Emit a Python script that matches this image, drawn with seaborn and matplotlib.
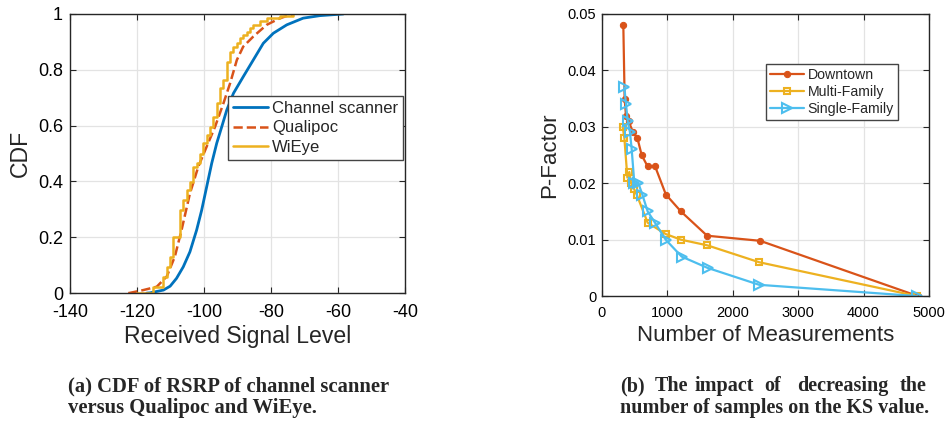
import matplotlib
matplotlib.use("Agg")
import matplotlib.pyplot as plt
import seaborn as sns

# ---------------- data ----------------
scanner_x = [-117.1, -116.1, -112.1, -110.1, -108.2, -106.2, -104.2, -102.2, -100.7, -99.2, -97.7, -96.2,
             -94.7, -93.2, -91.2, -88.3, -85.3, -82.3, -79.3, -75.3, -70.4, -65.4, -58.4]
scanner_y = [0.0, 0.001, 0.011, 0.025, 0.053, 0.094, 0.148, 0.226, 0.297, 0.381, 0.465, 0.537,
             0.596, 0.656, 0.716, 0.775, 0.835, 0.895, 0.931, 0.961, 0.985, 0.994, 1.0]

qualipoc_x = [-122.6, -122.1, -118.1, -114.1, -111.1, -108.7, -106.7, -104.2, -101.7, -99.2, -96.7, -94.2,
              -92.2, -90.2, -88.3, -85.3, -81.3, -77.3, -73.3]
qualipoc_y = [0.0, 0.001, 0.011, 0.023, 0.06, 0.131, 0.226, 0.357, 0.453, 0.525, 0.596, 0.68,
              0.752, 0.835, 0.883, 0.919, 0.961, 0.985, 1.0]

wieye_x = [-120.1, -115.1, -112.1, -111.1, -110.1, -109.2, -107.2, -106.2, -105.2, -104.2, -103.2, -102.2,
           -101.2, -100.2, -99.2, -98.2, -97.2, -96.2, -95.2, -94.2, -93.2, -92.2, -91.2, -90.2, -89.2,
           -88.3, -87.3, -86.3, -85.3, -83.3, -81.3, -77.3, -73.3]
wieye_y = [0.0, 0.023, 0.059, 0.094, 0.13, 0.202, 0.297, 0.333, 0.369, 0.399, 0.453, 0.465,
           0.5, 0.536, 0.566, 0.596, 0.632, 0.68, 0.734, 0.763, 0.829, 0.865, 0.883, 0.895, 0.913,
           0.925, 0.937, 0.949, 0.961, 0.973, 0.984, 0.993, 1.0]

cdf_xticks = [-140, -120, -100, -80, -60, -40]
cdf_yticks = [0, 0.2, 0.4, 0.6, 0.8, 1]
cdf_ytick_labels = ["0", "0.2", "0.4", "0.6", "0.8", "1"]

downtown_n = [330, 350, 370, 410, 480, 545, 610, 700, 815, 980, 1210, 1610, 2420, 4830]
downtown_p = [0.048, 0.035, 0.032, 0.031, 0.029, 0.028, 0.025, 0.023, 0.023, 0.018, 0.015, 0.0107, 0.0098, 0.0]

multi_n = [320, 346, 392, 422, 448, 493, 534, 702, 977, 1210, 1612, 2406, 4816]
multi_p = [0.030, 0.028, 0.021, 0.022, 0.020, 0.019, 0.018, 0.013, 0.011, 0.010, 0.009, 0.006, 0.0]

single_n = [346, 371, 397, 432, 458, 498, 560, 620, 702, 814, 977, 1221, 1617, 2406, 4816]
single_p = [0.037, 0.034, 0.031, 0.029, 0.026, 0.020, 0.020, 0.018, 0.015, 0.013, 0.010, 0.007, 0.005, 0.002, 0.0]

pf_xticks = [0, 1000, 2000, 3000, 4000, 5000]
pf_yticks = [0, 0.01, 0.02, 0.03, 0.04, 0.05]
pf_ytick_labels = ["0", "0.01", "0.02", "0.03", "0.04", "0.05"]

# ---------------- style ----------------
sns.set_style("whitegrid", {"grid.color": "#e3e3e3", "axes.edgecolor": "#262626",
                            "xtick.direction": "in", "ytick.direction": "in"})
plt.rcParams["font.family"] = ["Liberation Sans", "DejaVu Sans"]

C_BLUE = "#0072BD"
C_RED = "#D95319"
C_YEL = "#EDB120"
C_LBLUE = "#4DBEEE"

fig = plt.figure(figsize=(9.47, 4.23), dpi=100)
ax1 = fig.add_axes([0.0739, 0.307, 0.3538, 0.660])
ax2 = fig.add_axes([0.6354, 0.300, 0.3456, 0.667])

def style_axes(ax, tick_fs, xpad, ypad):
    for s in ax.spines.values():
        s.set_color("#262626")
        s.set_linewidth(1.0)
        s.set_visible(True)
    ax.tick_params(axis="both", which="both", direction="in", top=True, right=True,
                   bottom=True, left=True, length=4, width=0.8, color="#262626",
                   labelsize=tick_fs, labelcolor="black")
    ax.tick_params(axis="x", pad=xpad)
    ax.tick_params(axis="y", pad=ypad)
    ax.grid(True, color="#e3e3e3", linewidth=0.9)
    ax.set_axisbelow(True)

# ---------------- left: CDF ----------------
sns.lineplot(x=scanner_x, y=scanner_y, ax=ax1, color=C_BLUE, linewidth=2.0,
             sort=False, estimator=None, label="Channel scanner")
sns.lineplot(x=qualipoc_x, y=qualipoc_y, ax=ax1, color=C_RED, linewidth=1.8,
             linestyle="--", sort=False, estimator=None, label="Qualipoc")
sns.lineplot(x=wieye_x, y=wieye_y, ax=ax1, color=C_YEL, linewidth=1.8,
             drawstyle="steps-post", sort=False, estimator=None, label="WiEye")
ax1.set_xlim(-140, -40)
ax1.set_ylim(0, 1)
ax1.set_xticks(cdf_xticks)
ax1.set_xticklabels([str(v) for v in cdf_xticks])
ax1.set_yticks(cdf_yticks)
ax1.set_yticklabels(cdf_ytick_labels)
style_axes(ax1, 13, 8, 5)
ax1.set_xlabel("Received Signal Level", fontsize=16.6, labelpad=3)
ax1.set_ylabel("CDF", fontsize=16.6, labelpad=4)
leg1 = ax1.legend(loc="upper right", bbox_to_anchor=(0.995, 0.705), fontsize=12,
                  frameon=True, fancybox=False, edgecolor="#444444", framealpha=1,
                  handlelength=2.1, handletextpad=0.25, borderpad=0.3, labelspacing=0.25,
                  borderaxespad=0.0)
leg1.get_frame().set_linewidth(1.0)

# ---------------- right: P-Factor ----------------
sns.lineplot(x=downtown_n, y=downtown_p, ax=ax2, color=C_RED, linewidth=1.6,
             marker="o", markersize=4.5, markeredgecolor=C_RED, markerfacecolor=C_RED,
             sort=False, estimator=None, label="Downtown")
sns.lineplot(x=multi_n, y=multi_p, ax=ax2, color=C_YEL, linewidth=1.6,
             marker="s", markersize=5, markeredgecolor=C_YEL, markerfacecolor="none",
             markeredgewidth=1.5, sort=False, estimator=None, label="Multi-Family")
sns.lineplot(x=single_n, y=single_p, ax=ax2, color=C_LBLUE, linewidth=1.6,
             marker=">", markersize=7, markeredgecolor=C_LBLUE, markerfacecolor="none",
             markeredgewidth=1.5, sort=False, estimator=None, label="Single-Family")
ax2.set_xlim(0, 5000)
ax2.set_ylim(0, 0.05)
ax2.set_xticks(pf_xticks)
ax2.set_xticklabels([str(v) for v in pf_xticks])
ax2.set_yticks(pf_yticks)
ax2.set_yticklabels(pf_ytick_labels)
style_axes(ax2, 10.5, 7, 4)
ax2.set_xlabel("Number of Measurements", fontsize=16, labelpad=4)
ax2.set_ylabel("P-Factor", fontsize=16, labelpad=5)
leg2 = ax2.legend(loc="upper right", bbox_to_anchor=(0.905, 0.823), fontsize=10.2,
                  frameon=True, fancybox=False, edgecolor="#444444", framealpha=1,
                  handlelength=2.4, handletextpad=0.25, borderpad=0.3, labelspacing=0.2,
                  borderaxespad=0.0)
leg2.get_frame().set_linewidth(1.0)

# ---------------- captions ----------------
cap_a = dict(fontsize=14.9, fontweight="bold", family=["Liberation Serif", "DejaVu Serif"],
             va="baseline")
cap_b = dict(fontsize=14.5, fontweight="bold", family=["Liberation Serif", "DejaVu Serif"],
             va="baseline")
fig.text(68 / 947, 1 - 391 / 423, "(a) CDF of RSRP of channel scanner", ha="left", **cap_a)
fig.text(68 / 947, 1 - 413 / 423, "versus Qualipoc and WiEye.", ha="left", **cap_a)

words_b = ["(b)", "The", "impact", "of", "decreasing"]
word_x = [620, 655, 695, 764, 797]
for w, xp in zip(words_b, word_x):
    fig.text(xp / 947, 1 - 391 / 423, w, ha="left", **cap_b)
fig.text(927 / 947, 1 - 391 / 423, "the", ha="right", **cap_b)
fig.text(620 / 947, 1 - 413 / 423, "number of samples on the KS value.", ha="left", **cap_b)

fig.savefig("out.png", dpi=100)
